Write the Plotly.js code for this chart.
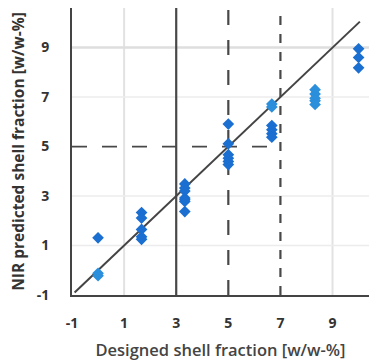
<!DOCTYPE html>
<html><head><meta charset="utf-8">
<script src="https://cdn.plot.ly/plotly-3.0.1.min.js"></script>
<style>html,body{margin:0;padding:0;background:#fff}#chart{width:369px;height:364px}</style>
</head><body><div id="chart"></div>
<script>
// Designed vs NIR predicted shell fraction
const designedDark = [0, 1.67,1.67,1.67,1.67,1.67, 3.33,3.33,3.33,3.33,3.33,3.33,3.33, 5,5,5,5,5,5, 6.67,6.67,6.67,6.67, 10,10,10];
const predictedDark = [1.31, 2.33,2.11,1.65,1.35,1.25, 3.49,3.32,3.2,2.92,2.85,2.78,2.37, 5.91,5.11,4.67,4.53,4.4,4.27, 5.85,5.68,5.52,5.38, 8.95,8.6,8.18];
const designedLight = [0,0, 6.67,6.67, 8.33,8.33,8.33,8.33,8.33];
const predictedLight = [-0.12,-0.22, 6.72,6.6, 7.3,7.12,6.95,6.85,6.7];
const fitX = [-0.9, 10.05];
const fitY = [-0.9, 10.05];
const tickVals = [-1,1,3,5,7,9];
const tickText = ['-1','1','3','5','7','9'];
const lightVLines = [1,9];
const lightHLines = [1,3,7,9];
const darkVLines = [3,5,7];
const darkHLines = [5];

const shapes = [];
lightVLines.forEach(v=>shapes.push({type:'line',xref:'x',yref:'paper',x0:v,x1:v,y0:0,y1:1,
  line:{color:'#e2e2e2',width:2},layer:'below'}));
lightHLines.forEach(v=>shapes.push({type:'line',xref:'paper',yref:'y',x0:0,x1:1,y0:v,y1:v,
  line:{color:v===9?'#dedede':'#ececec',width:v===9?2.5:1.5},layer:'below'}));
darkVLines.forEach((v,i)=>shapes.push({type:'line',xref:'x',yref:'paper',x0:v,x1:v,y0:0,y1:1,
  line:{color:'#484848',width:2.2,dash:i===0?'solid':(i===1?'longdash':'dash')},layer:'below'}));
darkHLines.forEach(v=>shapes.push({type:'line',xref:'paper',yref:'y',x0:0,x1:0.7,y0:v,y1:v,
  line:{color:'#484848',width:1.8,dash:'longdash'},layer:'below'}));

const traces = [
  {x:fitX,y:fitY,mode:'lines',line:{color:'#444',width:2},hoverinfo:'skip'},
  {x:designedDark,y:predictedDark,mode:'markers',marker:{symbol:'diamond',size:9,color:'#1a6fd1'}},
  {x:designedLight,y:predictedLight,mode:'markers',marker:{symbol:'diamond',size:9,color:'#2b8fdc'}}
];
const font = {family:'"Open Sans", sans-serif',color:'#333'};
const layout = {
  width:369,height:364,showlegend:false,
  paper_bgcolor:'#fff',plot_bgcolor:'#fff',
  margin:{l:72,r:0,t:8,b:69},
  font:font,
  shapes:shapes,
  xaxis:{range:[-1,10.4],tickvals:tickVals,ticktext:tickText,showgrid:false,
    zeroline:false,showline:true,linecolor:'#444',linewidth:2,mirror:false,ticks:'',ticklabelstandoff:14,
    tickfont:{family:'"Open Sans", sans-serif',size:14,color:'#333',weight:'bold'},
    title:{text:'Designed shell fraction [w/w-%]',font:{family:'"Open Sans", sans-serif',size:16.5,color:'#444',weight:600},standoff:14}},
  yaxis:{range:[-1,10.6],tickvals:tickVals,ticktext:tickText,showgrid:false,
    zeroline:false,showline:true,linecolor:'#444',linewidth:2,ticks:'',ticklabelstandoff:18,
    tickfont:{family:'"Open Sans", sans-serif',size:14,color:'#333',weight:'bold'},
    title:{text:'NIR predicted shell fraction [w/w-%]',font:{family:'"Open Sans", sans-serif',size:15.5,color:'#333',weight:'bold'},standoff:8}}
};
Plotly.newPlot('chart',traces,layout,{displayModeBar:false,staticPlot:true});
</script></body></html>
